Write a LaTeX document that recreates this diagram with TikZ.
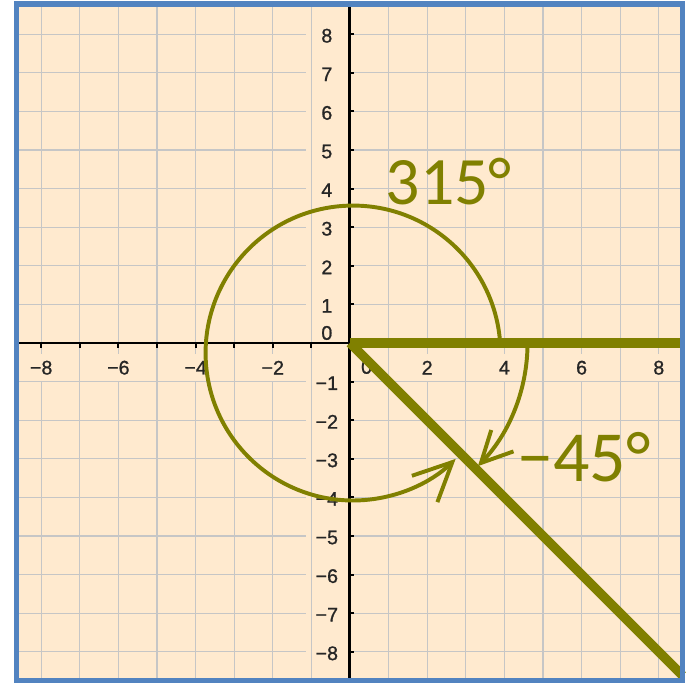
\documentclass[tikz,border=0pt]{standalone}
\usepackage{fontspec}
\setmainfont{Liberation Sans}
\newfontfamily\ticksfont[FakeBold=0.9]{Liberation Sans}
\newfontfamily\anglefont{Carlito}
\usetikzlibrary{arrows.meta}
\definecolor{peach}{HTML}{FFEACF}
\definecolor{gridgray}{HTML}{C6C6C6}
\definecolor{frameblue}{HTML}{5283C0}
\definecolor{olive}{HTML}{808000}

\begin{document}
\begin{tikzpicture}[
  gridline/.style={draw=gridgray, line width=1pt},
  axis/.style={black, line width=2.2pt},
  tick/.style={black, line width=1.4pt},
  xlab/.style={fill=peach, inner sep=0pt, minimum width=0.8cm, minimum height=0.7cm,
               font=\ticksfont\fontsize{14.5}{14.5}\selectfont, text=black!85},
  ylab/.style={fill=peach, inner sep=0pt, minimum width=1.1cm, minimum height=0.6cm,
               font=\ticksfont\fontsize{14.5}{14.5}\selectfont, text=black!85},
  ray/.style={olive, line width=7pt},
  turn/.style={olive, line width=2.9pt},
  anglelab/.style={text=olive, inner sep=0pt, anchor=base west},
]
\useasboundingbox (-9.067,-8.834) rectangle (8.705,8.886);
\fill[peach] (-8.645,-8.75) rectangle (8.614,8.777);

% grid and tick labels
\foreach \y in {-8,...,8}
  \draw[gridline] (-8.645,\y) -- (8.614,\y);
\foreach \y in {-8,...,-1,1,2,...,8}
  \node[ylab] (yl\y) at (-0.6,\y-0.04) {\ifnum\y<0 −\the\numexpr-\y\relax\else\y\fi};
\node[ylab] (yl0) at (-0.6,0.26) {0};
\foreach \x in {-8,...,8}
  \draw[gridline] (\x,-8.75) -- (\x,8.777);
\foreach \x in {-8,-6,-4,-2,2,4,6,8}
  \node[xlab] (xl\x) at (\x,-0.64) {\ifnum\x<0 −\the\numexpr-\x\relax\else\x\fi};
\node[xlab] (xl0) at (0.43,-0.62) {0};

% axes
\draw[axis] (-8.645,0) -- (8.614,0);
\draw[axis] (0,-8.75) -- (0,8.777);
\foreach \x in {-8,...,8}
  \draw[tick] (\x,0) -- (\x,-0.12);
\foreach \y in {-8,...,8}
  \draw[tick] (0,\y) -- (0.1,\y);

% angle rays
\coordinate (O) at (0,0);
\coordinate (xend) at (8.614,0);
\coordinate (dend) at (8.614,-8.614);
\draw[ray] (O) -- (xend);
\draw[ray] (O) -- (dend);

% turns
\coordinate (s315) at (3.89,0);
\coordinate (s45) at (4.6,0);
\draw[turn, -{Straight Barb[length=10mm, width=9.5mm]}]
  (s315) arc[start angle=3.9, end angle=314.1, radius=3.82];
\draw[turn, -{Straight Barb[length=8mm, width=8mm]}]
  (s45) arc[start angle=0, end angle=-43.9, radius=4.6];

\node[anglelab, font=\anglefont\fontsize{50}{50}\selectfont] (a315) at (0.92,3.60) {315°};
\node[anglelab, font=\anglefont\fontsize{53}{53}\selectfont] (a45) at (4.33,-3.59) {−45°};

% frame
\draw[frameblue, line width=4pt] (-8.645,-8.75) rectangle (8.614,8.777);
\end{tikzpicture}
\end{document}
